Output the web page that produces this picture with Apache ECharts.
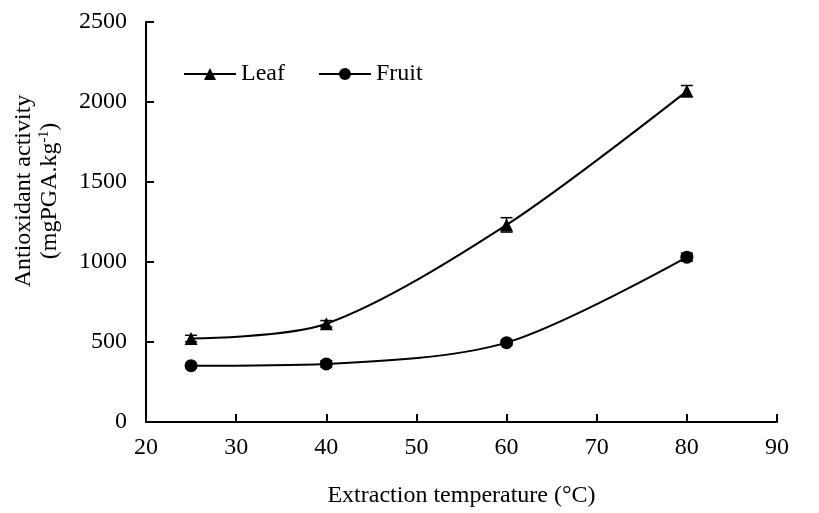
<!DOCTYPE html>
<html><head><meta charset="utf-8">
<script src="https://cdn.jsdelivr.net/npm/echarts@6/dist/echarts.min.js"></script>
<style>html,body{margin:0;padding:0;background:#fff}#c{width:819px;height:513px}</style>
</head><body><div id="c"></div>
<script>
var temps = [25, 40, 60, 80];
var leaf = [522, 614, 1232, 2068];
var leafErr = [20, 20, 45, 35];
var fruit = [352, 363, 496, 1030];
var fruitErr = [15, 20, 15, 25];
var xTicks = [20, 30, 40, 50, 60, 70, 80, 90];
var yTicks = [0, 500, 1000, 1500, 2000, 2500];

var font = 'Liberation Serif';
function pairs(xs, ys){ return xs.map(function(x,i){return [x, ys[i]];}); }
function errData(xs, ys, es){ return xs.map(function(x,i){return [x, ys[i]-es[i], ys[i]+es[i]];}); }
function errRender(params, api){
  var x = api.value(0), lo = api.value(1), hi = api.value(2);
  var p1 = api.coord([x, hi]), p0 = api.coord([x, lo]);
  var w = 6;
  var st = {stroke:'#000', lineWidth:1.5};
  return {type:'group', children:[
    {type:'line', shape:{x1:p0[0],y1:p0[1],x2:p1[0],y2:p1[1]}, style:st},
    {type:'line', shape:{x1:p1[0]-w,y1:p1[1],x2:p1[0]+w,y2:p1[1]}, style:st},
    {type:'line', shape:{x1:p0[0]-w,y1:p0[1],x2:p0[0]+w,y2:p0[1]}, style:st}
  ]};
}
var chart = echarts.init(document.getElementById('c'));
chart.setOption({
  animation:false,
  grid:{left:146, right:42, top:22, bottom:88},
  legend:{left:183, top:62, padding:0, itemWidth:52, itemHeight:15, itemGap:33,
    textStyle:{fontFamily:font, fontSize:24, color:'#000'},
    data:['Leaf','Fruit']},
  xAxis:{type:'value', min:xTicks[0], max:xTicks[xTicks.length-1], interval:10,
    axisLine:{lineStyle:{color:'#000', width:2}},
    axisTick:{inside:true, length:8, lineStyle:{color:'#000', width:2}},
    splitLine:{show:false},
    axisLabel:{color:'#000', fontFamily:font, fontSize:24, margin:14},
    name:'Extraction temperature (°C)', nameLocation:'middle', nameGap:62,
    nameTextStyle:{color:'#000', fontFamily:font, fontSize:24}},
  yAxis:{type:'value', min:yTicks[0], max:yTicks[yTicks.length-1], interval:500,
    axisLine:{show:true, lineStyle:{color:'#000', width:2}},
    axisTick:{show:true, inside:true, length:8, lineStyle:{color:'#000', width:2}},
    splitLine:{show:false},
    axisLabel:{color:'#000', fontFamily:font, fontSize:24, margin:19,
      formatter:function(v){return String(v);}}},
  graphic:[{type:'text', x:37, y:191, rotation:Math.PI/2,
    style:{text:'{a|Antioxidant activity}\n{a|(mgPGA.kg}{s|-1}{a|)}',
      align:'center', verticalAlign:'middle', fill:'#000',
      rich:{a:{fontFamily:font, fontSize:24, lineHeight:26, fill:'#000'},
            s:{fontFamily:font, fontSize:14, fill:'#000', padding:[0,0,12,0]}}}}],
  series:[
    {name:'Leaf', type:'line', data:pairs(temps, leaf), smooth:0.3,
     symbol:'triangle', symbolSize:13, itemStyle:{color:'#000'},
     lineStyle:{color:'#000', width:2}, z:3},
    {name:'Fruit', type:'line', data:pairs(temps, fruit), smooth:0.3,
     symbol:'circle', symbolSize:13, itemStyle:{color:'#000'},
     lineStyle:{color:'#000', width:2}, z:3},
    {type:'custom', renderItem:errRender, data:errData(temps, leaf, leafErr), z:4, silent:true},
    {type:'custom', renderItem:errRender, data:errData(temps, fruit, fruitErr), z:4, silent:true}
  ]
});
</script></body></html>
